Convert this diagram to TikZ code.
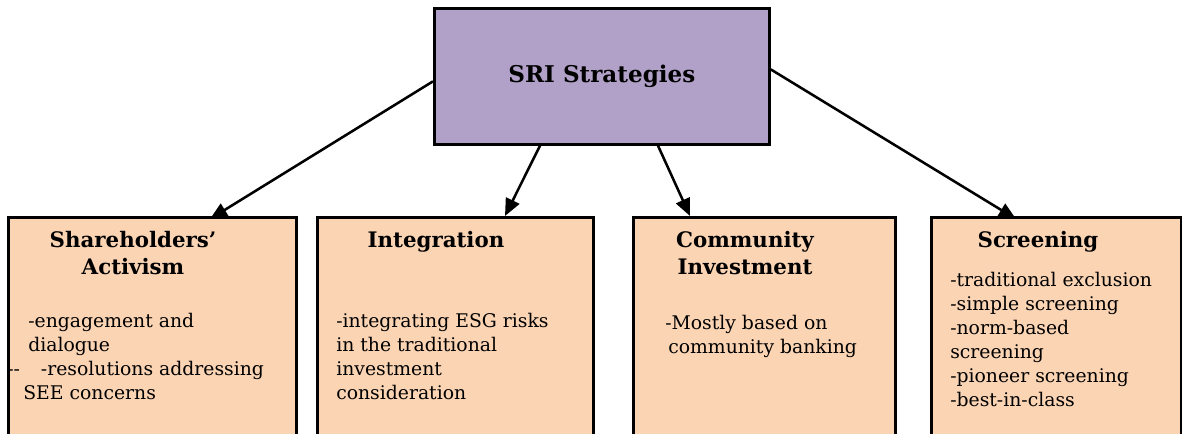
\documentclass[tikz,border=0pt]{standalone}
\usepackage{fontspec}
\setmainfont{DejaVu Serif}
\usetikzlibrary{arrows.meta, calc, backgrounds}
\definecolor{sripurple}{HTML}{B1A0C7}
\definecolor{sripeach}{HTML}{FBD4B4}

\begin{document}
\begin{tikzpicture}[x=0.75pt, y=-0.75pt,
  topbox/.style={draw, line width=2pt, fill=sripurple, inner sep=0pt,
    minimum width=251.25pt, minimum height=102pt,
    font=\fontsize{17.3}{20}\selectfont\bfseries},
  stratbox/.style={draw, line width=2pt, fill=sripeach, inner sep=0pt,
    minimum height=180pt},
  headtext/.style={inner sep=0pt, align=center,
    font=\fontsize{16}{20.25}\selectfont\bfseries},
  bodytext/.style={inner sep=0pt, align=left,
    font=\fontsize{14.1}{18}\selectfont},
  arr/.style={line width=1.9pt, -{Triangle[length=13pt, width=11pt]}}]
\useasboundingbox (0,0) rectangle (1182,433);
\clip (0,0) rectangle (1182,433);
% top box
\node[topbox, anchor=north west] (sri) at (433,7) {SRI Strategies};
% the four strategies
\node[stratbox, anchor=north west, minimum width=216pt] (share) at (7,216) {};
\node[stratbox, anchor=north west, minimum width=207pt] (integ) at (316,216) {};
\node[stratbox, anchor=north west, minimum width=196.5pt] (commun) at (632,216) {};
\node[stratbox, anchor=north west, minimum width=187.5pt] (screen) at (930,216) {};
% headings
\node[headtext, anchor=north] (shareH) at (133,231) {Shareholders’\\Activism};
\node[headtext, anchor=north] (integH) at (436,231) {Integration};
\node[headtext, anchor=north] (communH) at (745,231) {Community\\Investment};
\node[headtext, anchor=north] (screenH) at (1038,231) {Screening};
% texts
\node[bodytext, anchor=north west] (shareB) at (7,313)
  {\hspace*{15.75pt}-engagement and\\
   \hspace*{15.75pt}dialogue\\
   -{}-\hspace*{15.75pt}-resolutions addressing\\
   \hspace*{12pt}SEE concerns};
\node[bodytext, anchor=north west] (integB) at (336,313)
  {-integrating ESG risks\\in the traditional\\investment\\consideration};
\node[bodytext, anchor=north west] (communB) at (665,315)
  {-Mostly based on\\\hspace*{2.25pt}community banking};
\node[bodytext, anchor=north west] (screenB) at (950,272)
  {-traditional exclusion\\-simple screening\\-norm-based\\screening\\-pioneer screening\\-best-in-class};
% arrows, behind the boxes
\begin{pgfonlayer}{background}
\draw[arr] ($(sri.west)+(0,5)$) -- ($(share.north west)+(203,3)$);
\draw[arr] ($(sri.south west)+(107,0)$) -- ($(integ.north west)+(189,0)$);
\draw[arr] ($(sri.south west)+(225,0)$) -- ($(commun.north west)+(58,0)$);
\draw[arr] ($(sri.east)+(0,-7)$) -- ($(screen.north west)+(86,3)$);
\end{pgfonlayer}
\end{tikzpicture}
\end{document}
